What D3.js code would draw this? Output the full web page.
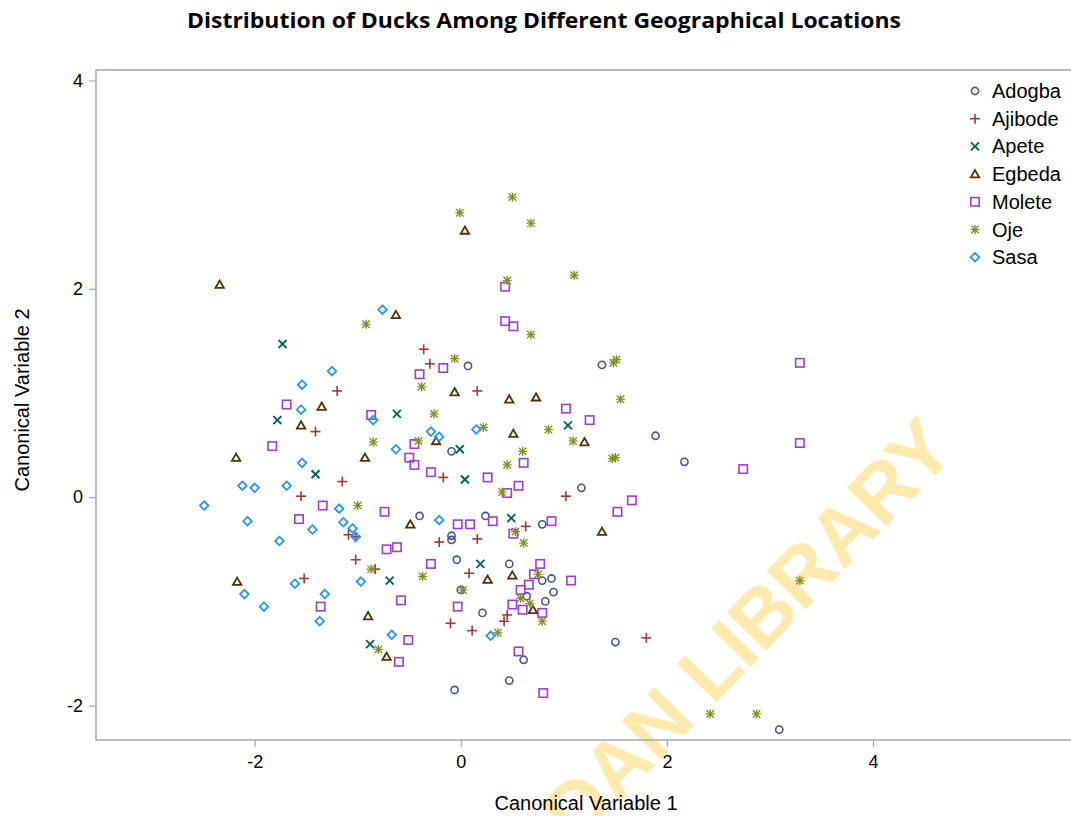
<!DOCTYPE html>
<html>
<head>
<meta charset="utf-8">
<script src="https://cdn.jsdelivr.net/npm/d3@7"></script>
<style>
  body { margin: 0; background: #fff; }
  text { font-family: "Liberation Sans", Arial, sans-serif; fill: #000; }
  .title { font-family: "Open Sans", "Noto Sans", sans-serif; font-weight: bold; font-size: 21px; }
</style>
</head>
<body>
<div id="chart"></div>
<script>
// groups, in legend order
var groups = ["Adogba", "Ajibode", "Apete", "Egbeda", "Molete", "Oje", "Sasa"];
var colors = ["#445694", "#A23A2E", "#01665E", "#543005", "#9D3CDB", "#7F8E1F", "#2597FA"];
var shapes = ["circle", "plus", "x", "triangle", "square", "asterisk", "diamond"];

// canonical scores: [can1, can2]
var adogba = [[0.07, 1.26], [1.37, 1.27], [1.89, 0.59], [2.17, 0.34], [1.17, 0.09], [-0.09, 0.44],
  [-0.40, -0.18], [0.24, -0.18], [0.79, -0.26], [-0.09, -0.37], [-0.09, -0.41], [-0.04, -0.60],
  [0.47, -0.64], [0.79, -0.80], [0.88, -0.78], [0.90, -0.91], [0.82, -1.00], [0.64, -0.95],
  [0.00, -0.89], [0.21, -1.11], [0.61, -1.56], [0.47, -1.76], [-0.06, -1.85], [1.50, -1.39],
  [3.09, -2.23]];
var ajibode = [[-0.36, 1.42], [-0.30, 1.28], [0.16, 1.02], [-1.20, 1.02], [-1.41, 0.63], [-1.15, 0.15],
  [-1.55, 0.01], [-0.17, 0.19], [1.02, 0.01], [0.63, -0.28], [-0.21, -0.43], [0.16, -0.40],
  [0.08, -0.73], [0.45, -1.13], [0.42, -1.19], [-0.10, -1.21], [0.11, -1.28], [-1.09, -0.36],
  [-1.02, -0.38], [-1.02, -0.60], [-0.83, -0.69], [-1.52, -0.78], [1.80, -1.35]];
var apete = [[-1.73, 1.47], [-1.78, 0.74], [-1.41, 0.22], [-0.62, 0.80], [-0.01, 0.46], [0.04, 0.17],
  [1.04, 0.69], [0.49, -0.20], [0.19, -0.64], [-0.69, -0.80], [-0.88, -1.41]];
var egbeda = [[-2.34, 2.04], [0.04, 2.56], [-0.63, 1.75], [-1.35, 0.87], [-1.55, 0.69], [-2.18, 0.38],
  [-0.93, 0.38], [-0.06, 1.01], [0.47, 0.94], [0.73, 0.96], [0.51, 0.61], [1.20, 0.53],
  [-0.24, 0.54], [-0.49, -0.26], [1.37, -0.33], [0.26, -0.79], [0.50, -0.75], [0.70, -1.08],
  [-0.72, -1.53], [-2.17, -0.81], [-0.90, -1.14]];
var molete = [[0.43, 2.02], [0.43, 1.69], [0.51, 1.64], [-0.17, 1.24], [-0.40, 1.18], [3.29, 1.29],
  [3.29, 0.52], [2.74, 0.27], [1.66, -0.03], [1.52, -0.14], [1.02, 0.85], [1.25, 0.74],
  [-0.45, 0.51], [-0.50, 0.38], [-0.45, 0.31], [-0.29, 0.24], [0.61, 0.33], [0.26, 0.19],
  [0.56, 0.11], [0.45, 0.04], [-0.03, -0.26], [0.09, -0.26], [0.31, -0.23], [0.88, -0.23],
  [0.51, -0.35], [-0.74, -0.14], [-0.62, -0.48], [-0.72, -0.50], [-1.69, 0.89], [-1.83, 0.49],
  [-0.87, 0.79], [-1.34, -0.08], [-1.57, -0.21], [-0.58, -0.99], [-1.36, -1.05], [-0.51, -1.37],
  [-0.60, -1.58], [-0.29, -0.64], [0.77, -0.64], [0.71, -0.74], [1.07, -0.80], [0.66, -0.84],
  [0.58, -0.89], [0.50, -1.03], [0.60, -1.08], [0.79, -1.11], [-0.03, -1.05], [0.56, -1.48],
  [0.80, -1.88]];
var oje = [[0.50, 2.88], [-0.01, 2.73], [0.68, 2.63], [1.10, 2.13], [0.45, 2.08], [0.68, 1.56],
  [-0.06, 1.33], [-0.38, 1.06], [1.48, 1.29], [1.51, 1.32], [-0.92, 1.66], [-0.85, 0.53],
  [1.55, 0.94], [1.47, 0.37], [1.50, 0.38], [-0.26, 0.80], [0.22, 0.67], [0.85, 0.65],
  [1.09, 0.54], [0.60, 0.44], [0.45, 0.31], [-0.41, 0.54], [0.40, 0.05], [0.53, -0.33],
  [0.61, -0.44], [-0.37, -0.76], [0.02, -0.89], [0.58, -0.97], [0.67, -1.02], [0.75, -0.74],
  [0.79, -1.19], [0.36, -1.30], [-1.00, -0.08], [-0.87, -0.69], [-0.80, -1.46], [3.29, -0.80],
  [2.42, -2.08], [2.87, -2.08]];
var sasa = [[-0.76, 1.80], [-1.25, 1.21], [-1.54, 1.08], [-1.55, 0.84], [-0.85, 0.74], [-0.63, 0.46],
  [-1.54, 0.33], [-2.12, 0.11], [-2.00, 0.09], [-1.69, 0.11], [-0.29, 0.63], [-0.21, 0.58],
  [0.15, 0.65], [-0.21, -0.22], [-2.49, -0.08], [-2.07, -0.23], [-1.76, -0.42], [-1.44, -0.31],
  [-1.18, -0.11], [-1.14, -0.24], [-1.05, -0.30], [-1.02, -0.38], [-0.97, -0.81], [-1.61, -0.83],
  [-2.10, -0.93], [-1.91, -1.05], [-1.32, -0.93], [-1.37, -1.19], [-0.67, -1.32], [0.29, -1.33]];

var seriesData = [adogba, ajibode, apete, egbeda, molete, oje, sasa];

var xTicks = [-2, 0, 2, 4];
var yTicks = [-2, 0, 2, 4];

var width = 1071, height = 816;
var margin = { top: 70, right: -4, bottom: 76, left: 96 };

var svg = d3.select('#chart').append('svg')
    .attr('width', width)
    .attr('height', height);

var x = d3.scaleLinear().domain([-3.54, 5.96]).range([margin.left, width - margin.right]);
var y = d3.scaleLinear().domain([-2.33, 4.10]).range([height - margin.bottom, margin.top]);

// title
svg.append('text')
    .attr('class', 'title')
    .attr('x', 544)
    .attr('y', 28)
    .attr('text-anchor', 'middle')
    .attr('textLength', 714)
    .attr('lengthAdjust', 'spacingAndGlyphs')
    .text('Distribution of Ducks Among Different Geographical Locations');

// watermark, clipped to the page, behind the marks
svg.append('clipPath').attr('id', 'page')
    .append('rect').attr('width', width).attr('height', height);
svg.append('g').attr('clip-path', 'url(#page)')
    .append('text')
    .attr('transform', 'translate(958,452) rotate(-46)')
    .attr('text-anchor', 'end')
    .style('font-family', '"Liberation Sans", Arial, sans-serif')
    .style('font-weight', 'bold')
    .style('font-size', '80px')
    .style('fill', '#FFE08A')
    .style('opacity', 0.7)
    .text('IBADAN LIBRARY');

// frame
svg.append('rect')
    .attr('x', x.range()[0])
    .attr('y', y.range()[1])
    .attr('width', x.range()[1] - x.range()[0])
    .attr('height', y.range()[0] - y.range()[1])
    .attr('fill', 'none')
    .attr('stroke', '#A5A9AD')
    .attr('stroke-width', 1.5);

// axes
var fmt = function (d) { return String(d); };
var xAxis = svg.append('g')
    .attr('transform', 'translate(0,' + (height - margin.bottom) + ')')
    .call(d3.axisBottom(x).tickValues(xTicks).tickFormat(fmt).tickSize(7).tickPadding(8));
var yAxis = svg.append('g')
    .attr('transform', 'translate(' + margin.left + ',0)')
    .call(d3.axisLeft(y).tickValues(yTicks).tickFormat(fmt).tickSize(7).tickPadding(6));

[xAxis, yAxis].forEach(function (ax) {
    ax.select('.domain').remove();
    ax.selectAll('.tick line').attr('stroke', '#A5A9AD').attr('stroke-width', 1.2);
    ax.selectAll('.tick text')
        .style('font-family', '"Liberation Sans", Arial, sans-serif')
        .style('font-size', '18px')
        .attr('fill', '#000');
});

svg.append('text')
    .attr('x', 586)
    .attr('y', 810)
    .attr('text-anchor', 'middle')
    .style('font-size', '20px')
    .text('Canonical Variable 1');

svg.append('text')
    .attr('transform', 'translate(29,' + 400 + ') rotate(-90)')
    .attr('text-anchor', 'middle')
    .style('font-size', '20px')
    .text('Canonical Variable 2');

// marker drawing
function marker(g, shape, color) {
    var s = 4.5;
    function line(x1, y1, x2, y2, w) {
        g.append('line').attr('x1', x1).attr('y1', y1).attr('x2', x2).attr('y2', y2)
            .attr('stroke', color).attr('stroke-width', w || 1.6);
    }
    if (shape === 'circle') {
        g.append('circle').attr('r', 3.6).attr('fill', 'none')
            .attr('stroke', color).attr('stroke-width', 1.6);
    } else if (shape === 'plus') {
        line(-s - 0.5, 0, s + 0.5, 0); line(0, -s - 0.5, 0, s + 0.5);
    } else if (shape === 'x') {
        line(-s + 0.5, -s + 0.5, s - 0.5, s - 0.5, 1.9); line(-s + 0.5, s - 0.5, s - 0.5, -s + 0.5, 1.9);
    } else if (shape === 'triangle') {
        g.append('path').attr('d', 'M0,-4L4.2,3.3L-4.2,3.3Z').attr('fill', 'none')
            .attr('stroke', color).attr('stroke-width', 1.8);
    } else if (shape === 'square') {
        g.append('rect').attr('x', -4.2).attr('y', -4.2).attr('width', 8.4).attr('height', 8.4)
            .attr('fill', 'none').attr('stroke', color).attr('stroke-width', 1.6);
    } else if (shape === 'asterisk') {
        line(0, -s, 0, s, 1.4); line(-s + 0.8, -s + 0.8, s - 0.8, s - 0.8, 1.4);
        line(-s + 0.8, s - 0.8, s - 0.8, -s + 0.8, 1.4); line(-s, 0, s, 0, 1.2);
    } else if (shape === 'diamond') {
        g.append('path').attr('d', 'M0,-4.3L4.3,0L0,4.3L-4.3,0Z').attr('fill', 'none')
            .attr('stroke', color).attr('stroke-width', 1.8);
    }
}

// points
seriesData.forEach(function (pts, gi) {
    var grp = svg.append('g').attr('class', 'series ' + groups[gi]);
    grp.selectAll('g.pt')
        .data(pts)
        .enter().append('g')
        .attr('class', 'pt')
        .attr('transform', function (d) { return 'translate(' + x(d[0]) + ',' + y(d[1]) + ')'; })
        .each(function () { marker(d3.select(this), shapes[gi], colors[gi]); });
});

// legend
var legend = svg.append('g').attr('transform', 'translate(975,91)');
groups.forEach(function (name, i) {
    var row = legend.append('g').attr('transform', 'translate(0,' + (i * 27.7) + ')');
    marker(row, shapes[i], colors[i]);
    row.append('text')
        .attr('x', 17)
        .attr('y', 7)
        .style('font-size', '20px')
        .text(name);
});
</script>
</body>
</html>
